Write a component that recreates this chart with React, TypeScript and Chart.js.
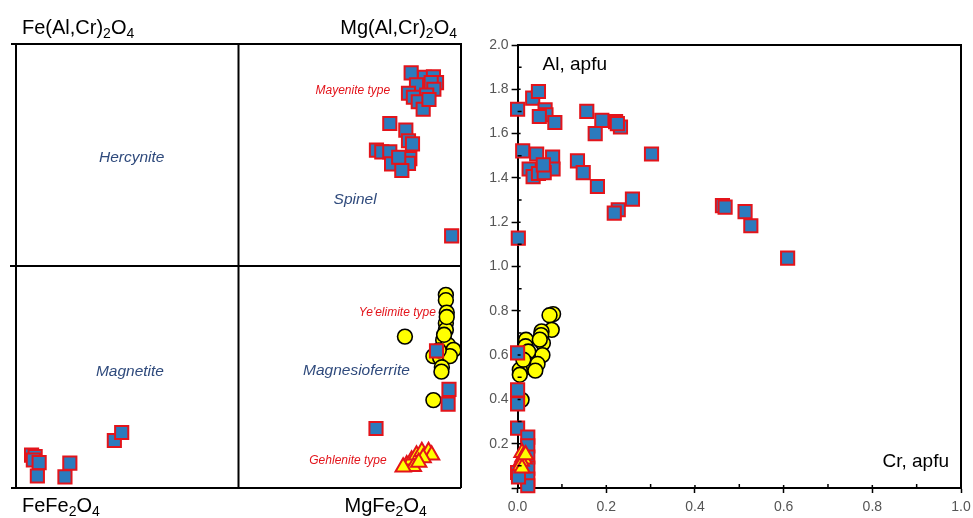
import React, { useEffect, useRef } from 'react';
import { Chart, registerables } from 'chart.js';

Chart.register(...registerables);

const FONT = '"Liberation Sans", Arial, sans-serif';

// ---------- Left diagram: classification field (x: Mg/(Mg+Fe), y: Al/(Al+Fe3+)) ----------
const leftSquareX = [
  0.888, 0.918, 0.938, 0.945, 0.933, 0.939, 0.9, 0.882, 0.923, 0.893, 0.904, 0.915, 0.928,
  0.84, 0.876, 0.882, 0.891, 0.81, 0.822, 0.84, 0.885, 0.844, 0.882, 0.867, 0.86,
  0.979,
  0.945, 0.973, 0.971, 0.809,
  0.035, 0.043, 0.039, 0.052, 0.048, 0.11, 0.121, 0.221, 0.2375,
];
const leftSquareY = [
  0.935, 0.925, 0.926, 0.913, 0.913, 0.898, 0.908, 0.889, 0.885, 0.88, 0.87, 0.853, 0.875,
  0.821, 0.806, 0.782, 0.775, 0.761, 0.757, 0.757, 0.742, 0.73, 0.731, 0.715, 0.745,
  0.568,
  0.309, 0.222, 0.189, 0.134,
  0.074, 0.0705, 0.063, 0.057, 0.027, 0.025, 0.056, 0.107, 0.125,
];
const leftCircleX = [
  0.966, 0.966, 0.968, 0.966, 0.966, 0.874, 0.96, 0.971, 0.983, 0.938, 0.953, 0.975, 0.957,
  0.956, 0.938, 0.962, 0.968, 0.95,
];
const leftCircleY = [
  0.435, 0.423, 0.395, 0.371, 0.356, 0.341, 0.333, 0.322, 0.311, 0.297, 0.294, 0.297, 0.272,
  0.262, 0.198, 0.345, 0.385, 0.31,
];
const leftTriangleX = [0.878, 0.889, 0.9, 0.912, 0.927, 0.934, 0.893, 0.87, 0.915, 0.905];
const leftTriangleY = [0.052, 0.063, 0.074, 0.082, 0.082, 0.074, 0.048, 0.047, 0.068, 0.058];

// field names and type labels (data coordinates of their centres)
const fieldNames = ['Hercynite', 'Spinel', 'Magnetite', 'Magnesioferrite'];
const fieldX = [0.26, 0.762, 0.256, 0.765];
const fieldY = [0.745, 0.649, 0.261, 0.264];
const typeNames = ['Mayenite type', "Ye'elimite type", 'Gehlenite type'];
const typeX = [0.757, 0.857, 0.746];
const typeY = [0.896, 0.395, 0.061];

// ---------- Right diagram: Al vs Cr (apfu) ----------
const rightSquareCr = [
  0.0, 0.034, 0.047, 0.062, 0.064, 0.049, 0.084, 0.156, 0.175, 0.19, 0.221, 0.232, 0.225, 0.302,
  0.0115, 0.043, 0.079, 0.08, 0.026, 0.035, 0.047, 0.06, 0.058, 0.135, 0.148, 0.18, 0.259,
  0.227, 0.218, 0.462, 0.468, 0.513, 0.526, 0.609, 0.0016,
  0.0, 0.0, 0.0, 0.0, 0.023, 0.023, 0.023, 0.023, 0.023, 0.023, 0.0, 0.002,
];
const rightSquareAl = [
  1.71, 1.76, 1.79, 1.707, 1.685, 1.677, 1.65, 1.7, 1.6, 1.66, 1.654, 1.63, 1.645, 1.508,
  1.522, 1.508, 1.494, 1.44, 1.44, 1.406, 1.42, 1.424, 1.459, 1.477, 1.424, 1.361, 1.304,
  1.256, 1.241, 1.275, 1.268, 1.248, 1.184, 1.038, 1.128,
  0.61, 0.443, 0.38, 0.27, 0.23, 0.19, 0.14, 0.09, 0.04, 0.01, 0.07, 0.05,
];
const rightCircleCr = [
  0.08, 0.072, 0.077, 0.054, 0.053, 0.057, 0.056, 0.019, 0.018, 0.024, 0.035, 0.02, 0.005,
  0.005, 0.009, 0.013, 0.05, 0.045, 0.04,
];
const rightCircleAl = [
  0.785, 0.78, 0.714, 0.707, 0.69, 0.654, 0.6, 0.669, 0.64, 0.616, 0.541, 0.564, 0.534,
  0.511, 0.398, 0.579, 0.67, 0.56, 0.53,
];
const rightTriangleCr = [0.01, 0.012, 0.015, 0.008, 0.006, 0.01, 0.018];
const rightTriangleAl = [0.16, 0.14, 0.13, 0.12, 0.1, 0.09, 0.15];

const BLUE = '#2b7bbd';
const RED = '#e3141b';
const YELLOW = '#ffff00';
const NAVY = '#2f4a7c';

const pts = (xs: number[], ys: number[]) => xs.map((x, i) => ({ x, y: ys[i] }));

function makeDatasets(sx: number[], sy: number[], cx: number[], cy: number[], tx: number[], ty: number[], clip: any) {
  return [
    {
      label: 'Gehlenite type',
      data: pts(tx, ty),
      pointStyle: 'triangle',
      pointRadius: 8.8,
      pointBackgroundColor: YELLOW,
      pointBorderColor: RED,
      pointBorderWidth: 2,
      clip,
    },
    {
      label: 'Mayenite type',
      data: pts(sx, sy),
      pointStyle: 'rect',
      pointRadius: 9.3,
      pointBackgroundColor: BLUE,
      pointBorderColor: RED,
      pointBorderWidth: 2,
      clip,
    },
    {
      label: "Ye'elimite type",
      data: pts(cx, cy),
      pointStyle: 'circle',
      pointRadius: 7.4,
      pointBackgroundColor: YELLOW,
      pointBorderColor: '#000',
      pointBorderWidth: 1.6,
      clip,
    },
  ];
}

// draws text made of normal / subscript parts
function drawChem(ctx: CanvasRenderingContext2D, parts: [string, boolean][], x: number, y: number, align: 'left' | 'right') {
  const big = `20px ${FONT}`;
  const small = `14px ${FONT}`;
  let w = 0;
  for (const [t, sub] of parts) {
    ctx.font = sub ? small : big;
    w += ctx.measureText(t).width;
  }
  let cx = align === 'left' ? x : x - w;
  ctx.textAlign = 'left';
  ctx.textBaseline = 'alphabetic';
  ctx.fillStyle = '#000';
  for (const [t, sub] of parts) {
    ctx.font = sub ? small : big;
    ctx.fillText(t, cx, sub ? y + 4 : y);
    cx += ctx.measureText(t).width;
  }
}

const leftPlugin = {
  id: 'leftFrame',
  afterDatasetsDraw(chart: any) {
    const { ctx, chartArea: a, scales } = chart;
    const xs = scales.x;
    const ys = scales.y;
    const mx = xs.getPixelForValue(0.5);
    const my = ys.getPixelForValue(0.5);
    ctx.save();
    ctx.strokeStyle = '#000';
    ctx.lineWidth = 2;
    ctx.beginPath();
    // outer frame
    ctx.moveTo(a.left - 5, a.top);
    ctx.lineTo(a.right, a.top);
    ctx.lineTo(a.right, a.bottom);
    ctx.moveTo(a.left - 5, a.bottom);
    ctx.lineTo(a.right, a.bottom);
    ctx.moveTo(a.left, a.top);
    ctx.lineTo(a.left, a.bottom + 1);
    // mid lines
    ctx.moveTo(mx, a.top);
    ctx.lineTo(mx, a.bottom);
    ctx.moveTo(a.left - 6, my);
    ctx.lineTo(a.right, my);
    ctx.stroke();

    ctx.textAlign = 'center';
    ctx.textBaseline = 'middle';
    ctx.font = `italic 15.5px ${FONT}`;
    ctx.fillStyle = NAVY;
    fieldNames.forEach((n, i) => {
      ctx.fillText(n, xs.getPixelForValue(fieldX[i]), ys.getPixelForValue(fieldY[i]));
    });
    ctx.font = `italic 12px ${FONT}`;
    ctx.fillStyle = RED;
    typeNames.forEach((n, i) => {
      ctx.fillText(n, xs.getPixelForValue(typeX[i]), ys.getPixelForValue(typeY[i]));
    });

    drawChem(ctx, [['Fe(Al,Cr)', false], ['2', true], ['O', false], ['4', true]], a.left + 6, a.top - 10, 'left');
    drawChem(ctx, [['Mg(Al,Cr)', false], ['2', true], ['O', false], ['4', true]], a.right - 4, a.top - 10, 'right');
    drawChem(ctx, [['FeFe', false], ['2', true], ['O', false], ['4', true]], a.left + 6, a.bottom + 24, 'left');
    drawChem(ctx, [['MgFe', false], ['2', true], ['O', false], ['4', true]], mx + 106, a.bottom + 24, 'left');
    ctx.restore();
  },
};

const rightPlugin = {
  id: 'rightFrame',
  afterDatasetsDraw(chart: any) {
    const { ctx, chartArea: a, scales } = chart;
    const xs = scales.x;
    const ys = scales.y;
    ctx.save();
    ctx.strokeStyle = '#000';
    ctx.lineWidth = 2;
    ctx.beginPath();
    ctx.moveTo(a.left, a.top);
    ctx.lineTo(a.right, a.top);
    ctx.lineTo(a.right, a.bottom);
    ctx.stroke();
    // minor ticks (inside) and inner part of major ticks
    ctx.lineWidth = 1.5;
    ctx.beginPath();
    for (let k = 1; k <= 10; k++) {
      const v = k / 10;
      const px = xs.getPixelForValue(v);
      const len = k % 2 === 1 ? 4 : 3;
      ctx.moveTo(px, a.bottom);
      ctx.lineTo(px, a.bottom - len);
    }
    for (let k = 1; k <= 20; k++) {
      const v = k / 10;
      const py = ys.getPixelForValue(v);
      const len = k % 2 === 1 ? 4 : 3;
      ctx.moveTo(a.left, py);
      ctx.lineTo(a.left + len, py);
    }
    ctx.stroke();
    ctx.fillStyle = '#000';
    ctx.font = `19px ${FONT}`;
    ctx.textBaseline = 'alphabetic';
    ctx.textAlign = 'left';
    ctx.fillText('Al, apfu', a.left + 25, a.top + 25);
    ctx.textAlign = 'right';
    ctx.fillText('Cr, apfu', a.right - 12, a.bottom - 21);
    ctx.restore();
  },
};

export default function App() {
  const leftRef = useRef<HTMLCanvasElement>(null);
  const rightRef = useRef<HTMLCanvasElement>(null);

  useEffect(() => {
    const left = new Chart(leftRef.current as HTMLCanvasElement, {
      type: 'scatter',
      data: {
        datasets: makeDatasets(leftSquareX, leftSquareY, leftCircleX, leftCircleY, leftTriangleX, leftTriangleY, 0) as any,
      },
      options: {
        responsive: false,
        animation: false,
        events: [],
        layout: { padding: { left: 16, top: 44, right: 19, bottom: 30 } },
        plugins: { legend: { display: false }, tooltip: { enabled: false } },
        scales: {
          x: { type: 'linear', min: 0, max: 1, display: false },
          y: { type: 'linear', min: 0, max: 1, display: false },
        },
      },
      plugins: [leftPlugin],
    });

    const tickFont = { family: FONT, size: 14 };
    const right = new Chart(rightRef.current as HTMLCanvasElement, {
      type: 'scatter',
      data: {
        datasets: makeDatasets(rightSquareCr, rightSquareAl, rightCircleCr, rightCircleAl, rightTriangleCr, rightTriangleAl, false) as any,
      },
      options: {
        responsive: false,
        animation: false,
        events: [],
        layout: { padding: { left: 0, top: 45, right: 12, bottom: 0 } },
        plugins: { legend: { display: false }, tooltip: { enabled: false } },
        scales: {
          x: {
            type: 'linear',
            min: 0,
            max: 1,
            afterFit: (s: any) => {
              s.height = 30;
              s.paddingLeft = 0;
              s.paddingRight = 0;
            },
            ticks: {
              stepSize: 0.2,
              autoSkip: false,
              maxRotation: 0,
              color: '#555',
              font: tickFont,
              padding: 6,
              callback: (v: any) => Number(v).toFixed(1),
            },
            grid: { drawOnChartArea: false, drawTicks: true, tickLength: 5, tickColor: '#000', tickWidth: 1.5 },
            border: { display: true, color: '#000', width: 2 },
          },
          y: {
            type: 'linear',
            min: 0,
            max: 2,
            afterFit: (s: any) => {
              s.width = 47.6;
              s.paddingTop = 0;
              s.paddingBottom = 0;
            },
            ticks: {
              stepSize: 0.2,
              autoSkip: false,
              color: '#555',
              font: tickFont,
              padding: 3,
              callback: (v: any) => (Math.abs(Number(v)) < 1e-9 ? '' : Number(v).toFixed(1)),
            },
            grid: { drawOnChartArea: false, drawTicks: true, tickLength: 6, tickColor: '#000', tickWidth: 1.5 },
            border: { display: true, color: '#000', width: 2 },
          },
        },
      },
      plugins: [rightPlugin],
    });

    return () => {
      left.destroy();
      right.destroy();
    };
  }, []);

  return (
    <div style={{ position: 'fixed', left: 0, top: 0, width: 973, height: 518, background: '#fff' }}>
      <canvas ref={leftRef} width={480} height={518} style={{ position: 'absolute', left: 0, top: 0, display: 'block' }} />
      <canvas ref={rightRef} width={503} height={518} style={{ position: 'absolute', left: 470, top: 0, display: 'block' }} />
    </div>
  );
}
